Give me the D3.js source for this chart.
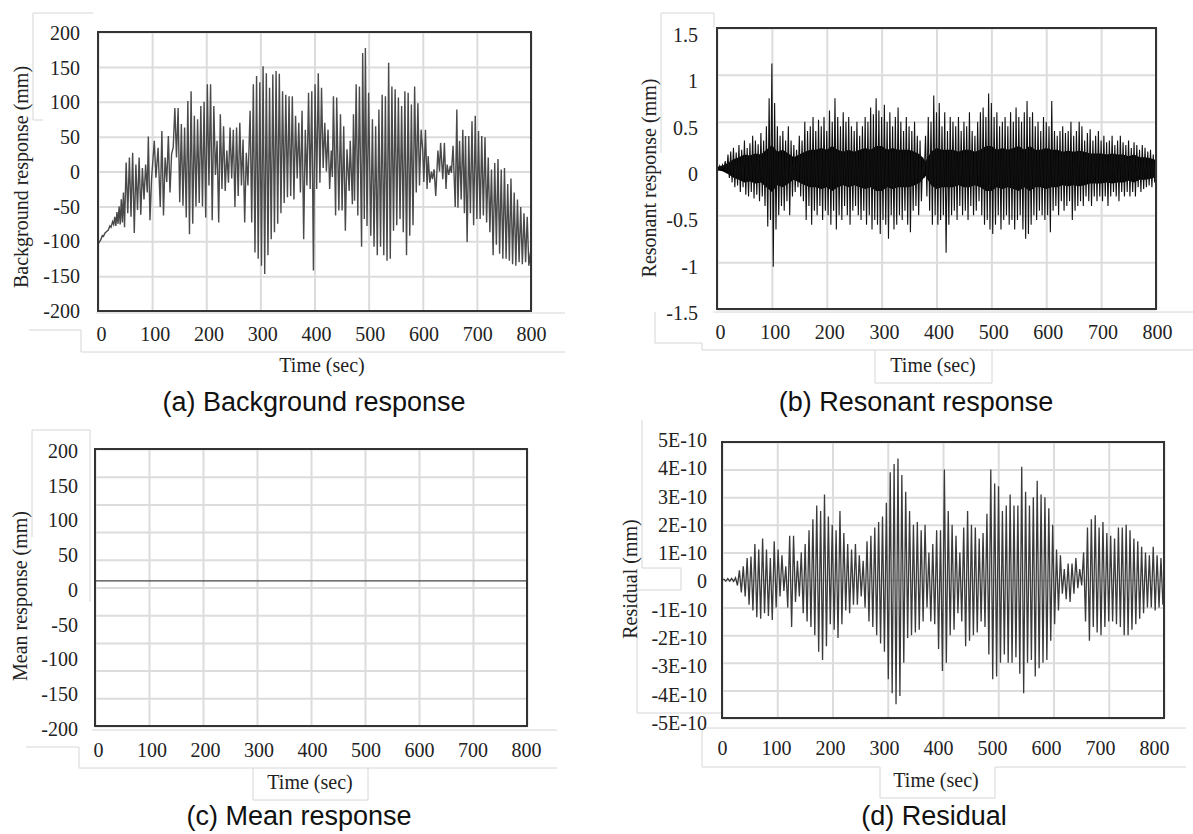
<!DOCTYPE html>
<html>
<head>
<meta charset="utf-8">
<script src="https://cdn.jsdelivr.net/npm/d3@7"></script>
<style>
  body { margin: 0; background: #fff; }
  svg { display: block; }
  .lbl text { font-family: "Liberation Serif", "Times New Roman", serif; font-size: 20px; fill: #222; }
  .title { font-family: "Liberation Serif", "Times New Roman", serif; font-size: 20px; fill: #222; }
  .caption { font-family: "Liberation Sans", Arial, sans-serif; font-size: 27px; fill: #111; }
  .grid line { stroke: #dcdcdc; stroke-width: 2; }
  .grid path { display: none; }
  .deco { fill: none; stroke: #d6d6d6; stroke-width: 1; }
</style>
</head>
<body>
<script>
// ---- data ----
var timeTicks = [0, 100, 200, 300, 400, 500, 600, 700, 800];

// (a) background response: [time (s), response (mm)] turning points
var bgTicks = [-200, -150, -100, -50, 0, 50, 100, 150, 200];
var bgSeries = [
  [0,-104],[5,-98],[8,-92],[10,-93],[13,-88],[16,-86],[19,-84],[22,-78],[24,-80],[27,-72],[29,-76],[31,-65],[33,-78],[35,-58],[37,-75],[39,-50],[41,-76],[43,-40],[45,-73],[47,-30],[49,-80],
  [52,13],[55,-60],[58,20],[61,-65],[64,27],[67,-88],[70,10],[73,-55],[76,20],[79,-62],[82,5],[85,-40],[88,10],[91,-30],[93,50],[96,-70],[99,-10],
  [104,44],[107,-9],[111,34],[115,-51],[118,58],[121,-63],[124,20],[127,-15],[130,51],[133,-30],[136,25],[139,35],[142,91],[145,20],[148,91],
  [151,-44],[154,68],[157,-49],[160,63],[163,-66],[166,101],[169,-90],[172,115],[175,-75],[178,80],[181,-50],[184,75],[187,-45],[190,94],[193,-50],[196,100],[199,-66],[202,125],[205,-20],[208,125],[211,-70],[214,94],[217,-5],
  [220,44],[223,-73],[226,82],[229,-25],[232,65],[235,-28],[238,30],[241,-16],[244,63],[247,-10],[250,60],[253,-51],[256,63],[259,-35],[262,70],[265,-20],[268,46],[271,-73],[274,27],[277,-20],
  [281,87],[284,-73],[287,125],[290,-116],[293,137],[296,-125],[299,128],[302,-135],[305,151],[308,-147],[311,141],[314,-120],[317,120],[320,-97],[323,139],[326,-87],[329,144],[332,-75],[335,140],[338,-60],
  [341,115],[344,-45],[347,110],[350,-37],[353,108],[356,-35],[359,108],[362,-40],[365,80],[368,-10],[371,70],[374,-30],[377,87],[380,-97],[383,60],[386,-20],[389,113],[392,-25],
  [395,115],[398,-142],[401,125],[404,-25],[407,141],[410,-16],[413,120],[416,5],[419,70],[422,0],[425,60],[428,-25],[431,30],[433,-8],[435,108],[439,-63],[441,106],[445,-56],[448,82],[451,-56],[454,65],[457,-85],[460,32],[464,-28],[466,44],[470,-47],
  [472,82],[474,-42],[477,125],[480,-63],[483,122],[487,-108],[489,170],[492,-68],[494,177],[497,-78],[500,113],[504,-92],[507,75],[510,-108],[513,65],[516,-120],
  [519,89],[522,-108],[525,110],[528,-120],[531,108],[534,-128],[537,156],[540,-125],[543,122],[546,-85],[549,118],[552,-77],[555,106],[558,-68],[561,94],[564,-87],[567,115],[570,-120],[573,113],[576,-92],[579,96],[582,-77],[585,122],[588,-30],[591,98],[594,-20],[597,60],
  [600,30],[602,-15],[605,60],[608,-25],[610,22],[613,-16],[616,0],[618,-11],[621,3],[624,-35],[628,30],[631,0],[633,41],[637,-11],[640,41],[643,-25],[645,10],[648,-5],[651,8],[653,-2],[656,37],
  [660,-51],[663,89],[665,-52],[668,44],[671,-40],[674,60],[677,-60],[679,51],[682,-101],[685,51],[688,-60],[691,72],[694,-77],[697,80],[700,-68],[703,58],[706,-68],[709,51],[712,-63],
  [715,49],[718,-73],[721,20],[724,-87],[727,3],[730,-120],[733,12],[736,-105],[739,18],[742,-118],[745,3],[748,-125],[751,5],[754,-125],[757,-18],[760,-128],[763,-10],[766,-133],[769,-30],[772,-135],[775,-40],[778,-130],[781,-51],[784,-133],[787,-60],[790,-130],[793,-65],[796,-135],[800,-110]
];

// (b) resonant response (mm): local max / min every 5 s, plus the dense core half-width every 10 s
var resTicks = [-1.5, -1, -0.5, 0, 0.5, 1, 1.5];
var resStep = 5;
var resUpper = [
  0.03,0.03,0.04,0.08,0.15,0.18,0.22,0.17,0.25,0.2,
  0.3,0.22,0.27,0.35,0.3,0.26,0.38,0.3,0.45,0.75,
  1.12,0.7,0.45,0.35,0.4,0.3,0.45,0.3,0.25,0.2,
  0.35,0.3,0.5,0.4,0.45,0.55,0.4,0.52,0.45,0.55,
  0.4,0.62,0.5,0.75,0.55,0.45,0.6,0.5,0.55,0.45,
  0.4,0.5,0.35,0.45,0.55,0.5,0.65,0.58,0.75,0.62,
  0.55,0.68,0.5,0.6,0.45,0.55,0.65,0.5,0.4,0.55,
  0.45,0.4,0.5,0.35,0.3,0.12,0.35,0.55,0.5,0.78,
  0.6,0.7,0.45,0.6,0.4,0.55,0.5,0.45,0.55,0.4,
  0.5,0.45,0.6,0.4,0.35,0.5,0.6,0.65,0.55,0.8,
  0.7,0.55,0.6,0.45,0.5,0.55,0.45,0.6,0.5,0.65,
  0.55,0.5,0.6,0.72,0.55,0.6,0.45,0.5,0.4,0.55,
  0.5,0.45,0.72,0.4,0.35,0.4,0.45,0.38,0.4,0.5,
  0.35,0.4,0.5,0.45,0.3,0.38,0.42,0.3,0.35,0.4,
  0.3,0.35,0.28,0.3,0.35,0.25,0.3,0.35,0.28,0.25,
  0.3,0.22,0.28,0.25,0.2,0.25,0.22,0.18,0.2,0.15,
  0.15
];
var resLower = [
  -0.01,-0.01,0.0,-0.05,-0.1,-0.15,-0.2,-0.18,-0.25,-0.2,
  -0.28,-0.3,-0.25,-0.32,-0.28,-0.35,-0.3,-0.4,-0.62,-0.55,
  -1.05,-0.65,-0.5,-0.4,-0.45,-0.35,-0.5,-0.3,-0.25,-0.2,
  -0.3,-0.35,-0.55,-0.4,-0.6,-0.45,-0.5,-0.4,-0.55,-0.45,
  -0.5,-0.6,-0.45,-0.65,-0.5,-0.55,-0.4,-0.5,-0.6,-0.45,
  -0.4,-0.5,-0.55,-0.45,-0.6,-0.5,-0.65,-0.55,-0.6,-0.7,
  -0.55,-0.6,-0.75,-0.5,-0.65,-0.6,-0.5,-0.55,-0.45,-0.6,
  -0.68,-0.45,-0.4,-0.5,-0.35,-0.1,-0.3,-0.45,-0.6,-0.5,
  -0.6,-0.55,-0.5,-0.9,-0.6,-0.5,-0.45,-0.55,-0.4,-0.5,
  -0.45,-0.55,-0.4,-0.5,-0.45,-0.35,-0.5,-0.6,-0.55,-0.65,
  -0.7,-0.6,-0.5,-0.65,-0.55,-0.5,-0.6,-0.55,-0.65,-0.55,
  -0.5,-0.65,-0.75,-0.7,-0.6,-0.5,-0.55,-0.45,-0.5,-0.55,
  -0.5,-0.68,-0.45,-0.4,-0.5,-0.35,-0.45,-0.4,-0.35,-0.55,
  -0.45,-0.4,-0.35,-0.4,-0.3,-0.35,-0.4,-0.3,-0.35,-0.3,
  -0.35,-0.3,-0.4,-0.3,-0.25,-0.3,-0.35,-0.25,-0.3,-0.25,
  -0.3,-0.25,-0.3,-0.2,-0.25,-0.22,-0.2,-0.18,-0.2,-0.15,
  -0.12
];
var resCoreStep = 10;
var resCore = [
  0.02,0.03,0.06,0.1,0.12, 0.15,0.14,0.16,0.15,0.2,
  0.25,0.18,0.2,0.16,0.12, 0.15,0.18,0.2,0.2,0.22,
  0.2,0.24,0.2,0.18,0.2, 0.18,0.2,0.22,0.2,0.24,
  0.24,0.2,0.22,0.2,0.2, 0.2,0.18,0.15,0.08,0.18,
  0.22,0.2,0.2,0.2,0.18, 0.2,0.2,0.18,0.2,0.24,
  0.24,0.2,0.22,0.2,0.22, 0.24,0.2,0.24,0.2,0.2,
  0.22,0.2,0.2,0.18,0.19, 0.18,0.19,0.18,0.16,0.16,
  0.16,0.15,0.16,0.15,0.15, 0.13,0.15,0.12,0.12,0.11,
  0.09
];

// (c) mean response (mm)
var meanTicks = [-200, -150, -100, -50, 0, 50, 100, 150, 200];
var meanGrid = [-200, -160, -120, -80, -40, 0, 40, 80, 120, 160, 200];
var meanTime = [0, 800];
var meanValue = 9.5;

// (d) residual, in units of 1E-10 mm, one turning point every 3.5 s
var residTicks = [-5, -4, -3, -2, -1, 0, 1, 2, 3, 4, 5];
var residStep = 3.5;
var residValues = [
  0,0.03,-0.04,0.05,-0.04,0.06,-0.05,0.08,-0.2,0.35,-0.45,0.5,-0.6,0.8,-0.9,0.85,-1.1,1.3,-1.35,1.1,
  -1.4,1.5,-1.2,1.1,-1.3,0.8,-1.45,1.4,-1.0,1.1,-0.6,0.9,-0.4,0.5,-1.0,1.6,-1.7,1.6,-0.8,0.7,
  -0.6,1.0,-1.2,1.3,-1.5,1.8,-1.7,2.2,-2.0,2.7,-2.6,2.5,-2.9,3.1,-2.4,2.3,-1.6,2.0,-1.8,1.8,
  -2.1,2.5,-1.6,1.7,-1.1,1.3,-1.2,1.1,-0.9,1.3,-0.9,0.9,-0.6,0.7,-1.0,1.4,-1.5,1.6,-1.7,1.9,
  -2.0,2.1,-2.3,2.3,-2.6,2.8,-3.6,3.9,-4.1,4.2,-4.5,4.4,-4.2,3.8,-3.0,3.2,-2.1,2.5,-2.0,2.0,
  -1.9,2.1,-1.8,1.8,-1.5,2.0,-1.0,1.0,-1.5,1.3,-1.6,1.8,-2.5,1.8,-3.3,4.0,-3.0,2.5,-2.0,2.0,
  -1.8,1.6,-1.2,1.0,-1.5,1.9,-2.4,2.5,-2.2,2.0,-2.0,1.9,-1.9,1.5,-1.5,1.7,-1.7,2.4,-2.7,4.0,
  -3.6,3.5,-3.5,3.4,-3.0,2.5,-2.7,2.7,-3.0,3.1,-3.0,2.7,-2.8,2.7,-3.4,4.1,-4.1,3.2,-3.0,2.7,
  -2.9,3.0,-3.5,3.6,-3.2,3.1,-3.0,3.0,-2.9,2.6,-2.2,2.0,-1.6,1.1,-1.1,0.9,-0.5,0.4,-0.7,0.6,
  -0.8,0.6,-0.5,0.8,-0.3,0.4,-0.2,1.0,-1.5,1.9,-2.2,2.2,-1.7,2.35,-1.9,1.9,-2.0,2.1,-1.7,1.7,
  -1.5,1.6,-1.5,1.5,-1.6,1.9,-1.7,1.9,-2.0,2.0,-2.0,1.8,-1.8,1.5,-1.6,1.4,-1.4,1.2,-1.2,1.0,
  -1.0,0.9,-1.0,1.2,-1.1,0.9,-1.0,0.8,-0.9
];

// ---- layout (page pixels) ----
var panels = [
  { key: "a", plot: [98, 531, 32, 311], xLab: [101, 531, 334], yLab: [311, 33, 80],
    yDomain: [-200, 200], yTicks: bgTicks, yGrid: bgTicks, fmt: String,
    yTitle: "Background response (mm)", yTitlePos: [21, 177], xTitlePos: [322, 365],
    caption: "(a) Background response", capPos: [314, 402],
    deco: [[[96,313],[565,313]], [[81,352],[565,352]], [[29,330],[81,330],[81,352]], [[33,13],[33,120],[43,120]], [[33,13],[93,13]]] },
  { key: "b", plot: [717, 1156, 28, 309], xLab: [720, 1157, 332], yLab: [313, 35, 698],
    yDomain: [-1.5, 1.5], yTicks: resTicks, yGrid: resTicks, fmt: String,
    yTitle: "Resonant response (mm)", yTitlePos: [649, 178], xTitlePos: [933, 365],
    caption: "(b) Resonant response", capPos: [916, 402],
    deco: [[[713,312],[1193,312]], [[702,350],[1193,350]], [[655,312],[655,343],[702,343],[702,350]],
           [[875,350],[875,383],[992,383],[992,350]], [[661,153],[661,13],[714,13],[714,28]]] },
  { key: "c", plot: [95, 527, 449, 726], xLab: [98, 526, 750], yLab: [729, 451, 78],
    yDomain: [-200, 200], yTicks: meanTicks, yGrid: meanGrid, fmt: String,
    yTitle: "Mean response (mm)", yTitlePos: [20, 596], xTitlePos: [310, 782],
    caption: "(c) Mean response", capPos: [299, 816],
    deco: [[[92,730],[557,730]], [[79,768],[557,768]], [[26,747],[79,747],[79,768]],
           [[253,768],[253,800],[368,800],[368,768]], [[90,602],[90,430],[32,430],[32,537]]] },
  { key: "d", plot: [722, 1164, 442, 718], xLab: [722, 1154, 748], yLab: [723, 440, 707],
    yDomain: [-5, 5], yTicks: residTicks, yGrid: residTicks,
    fmt: function (d) { return d === 0 ? "0" : d + "E-10"; },
    yTitle: "Residual (mm)", yTitlePos: [630, 579], xTitlePos: [936, 780],
    caption: "(d) Residual", capPos: [934, 816],
    deco: [[[702,728],[1186,728]], [[702,728],[702,767],[880,767]], [[995,767],[1186,767]],
           [[880,767],[880,798],[995,798],[995,767]], [[642,420],[642,568],[681,568],[681,590],[637,590],[637,713],[722,713]]] }
];

var W = 1193, H = 834;
var svg = d3.select("body").append("svg").attr("width", W).attr("height", H);

panels.forEach(function (p) {
  var g = svg.append("g").attr("class", "panel-" + p.key);
  var x = d3.scaleLinear().domain([0, 800]).range([p.plot[0], p.plot[1]]);
  var y = d3.scaleLinear().domain(p.yDomain).range([p.plot[3], p.plot[2]]);
  // label scales (the pasted labels sit slightly off the plot grid)
  var xl = d3.scaleLinear().domain([0, 800]).range([p.xLab[0], p.xLab[1]]);
  var yl = d3.scaleLinear().domain(p.yDomain).range([p.yLab[0], p.yLab[1]]);
  p.x = x; p.y = y; p.g = g;

  // leftover boxes from the pasted figure
  p.deco.forEach(function (pts) {
    g.append("path").attr("class", "deco").attr("d", d3.line()(pts));
  });

  // gridlines
  g.append("g").attr("class", "grid")
    .attr("transform", "translate(0," + p.plot[3] + ")")
    .call(d3.axisBottom(x).tickValues(timeTicks).tickSize(-(p.plot[3] - p.plot[2])).tickFormat(""));
  g.append("g").attr("class", "grid")
    .attr("transform", "translate(" + p.plot[0] + ",0)")
    .call(d3.axisLeft(y).tickValues(p.yGrid).tickSize(-(p.plot[1] - p.plot[0])).tickFormat(""));

  // tick labels
  var ax = g.append("g").attr("class", "lbl")
    .attr("transform", "translate(0," + (p.xLab[2] - 7) + ")")
    .call(d3.axisBottom(xl).tickValues(timeTicks).tickSize(0).tickPadding(0));
  var ay = g.append("g").attr("class", "lbl")
    .attr("transform", "translate(" + p.yLab[2] + ",0)")
    .call(d3.axisLeft(yl).tickValues(p.yTicks).tickSize(0).tickPadding(0).tickFormat(p.fmt));
  [ax, ay].forEach(function (a) {
    a.attr("font-family", null).attr("font-size", null);
    a.select(".domain").remove();
  });

  // titles
  g.append("text").attr("class", "title")
    .attr("transform", "translate(" + p.yTitlePos[0] + "," + p.yTitlePos[1] + ") rotate(-90)")
    .attr("text-anchor", "middle").attr("dy", "0.35em")
    .text(p.yTitle);
  g.append("text").attr("class", "title")
    .attr("x", p.xTitlePos[0]).attr("y", p.xTitlePos[1])
    .attr("text-anchor", "middle").attr("dy", "0.35em")
    .text("Time (sec)");
  g.append("text").attr("class", "caption")
    .attr("x", p.capPos[0]).attr("y", p.capPos[1])
    .attr("text-anchor", "middle").attr("dy", "0.35em")
    .text(p.caption);

  g.append("clipPath").attr("id", "clip-" + p.key)
    .append("rect")
    .attr("x", p.plot[0]).attr("y", p.plot[2])
    .attr("width", p.plot[1] - p.plot[0]).attr("height", p.plot[3] - p.plot[2]);
  p.layer = g.append("g").attr("clip-path", "url(#clip-" + p.key + ")");
});

// (a) background response
var pa = panels[0];
pa.layer.append("path")
  .datum(bgSeries)
  .attr("fill", "none").attr("stroke", "#4a4a4a").attr("stroke-width", 1.4)
  .attr("d", d3.line().x(function (d) { return pa.x(d[0]); }).y(function (d) { return pa.y(d[1]); }));

// (b) resonant response: black core under a dense zigzag of peaks
var pb = panels[1];
pb.layer.append("path")
  .datum(resCore)
  .attr("fill", "#000")
  .attr("d", d3.area()
    .x(function (d, i) { return pb.x(i * resCoreStep); })
    .y0(function (d) { return pb.y(-d); })
    .y1(function (d) { return pb.y(d); }));
var resPts = [];
resUpper.forEach(function (u, i) {
  resPts.push([i * resStep, u]);
  resPts.push([Math.min(800, i * resStep + resStep / 2), resLower[i]]);
});
pb.layer.append("path")
  .datum(resPts)
  .attr("fill", "none").attr("stroke", "#111").attr("stroke-width", 1.1)
  .attr("d", d3.line().x(function (d) { return pb.x(d[0]); }).y(function (d) { return pb.y(d[1]); }));

// (c) mean response
var pc = panels[2];
pc.layer.append("path")
  .datum(meanTime)
  .attr("fill", "none").attr("stroke", "#444").attr("stroke-width", 1.4)
  .attr("d", d3.line().x(function (d) { return pc.x(d); }).y(function () { return pc.y(meanValue); }));

// (d) residual
var pd = panels[3];
pd.layer.append("path")
  .datum(residValues)
  .attr("fill", "none").attr("stroke", "#3a3a3a").attr("stroke-width", 1.3)
  .attr("d", d3.line().x(function (d, i) { return pd.x(i * residStep); }).y(function (d) { return pd.y(d); }));

// plot frames on top
panels.forEach(function (p) {
  p.g.append("rect")
    .attr("x", p.plot[0]).attr("y", p.plot[2])
    .attr("width", p.plot[1] - p.plot[0]).attr("height", p.plot[3] - p.plot[2])
    .attr("fill", "none").attr("stroke", "#333").attr("stroke-width", 2);
});
</script>
</body>
</html>
